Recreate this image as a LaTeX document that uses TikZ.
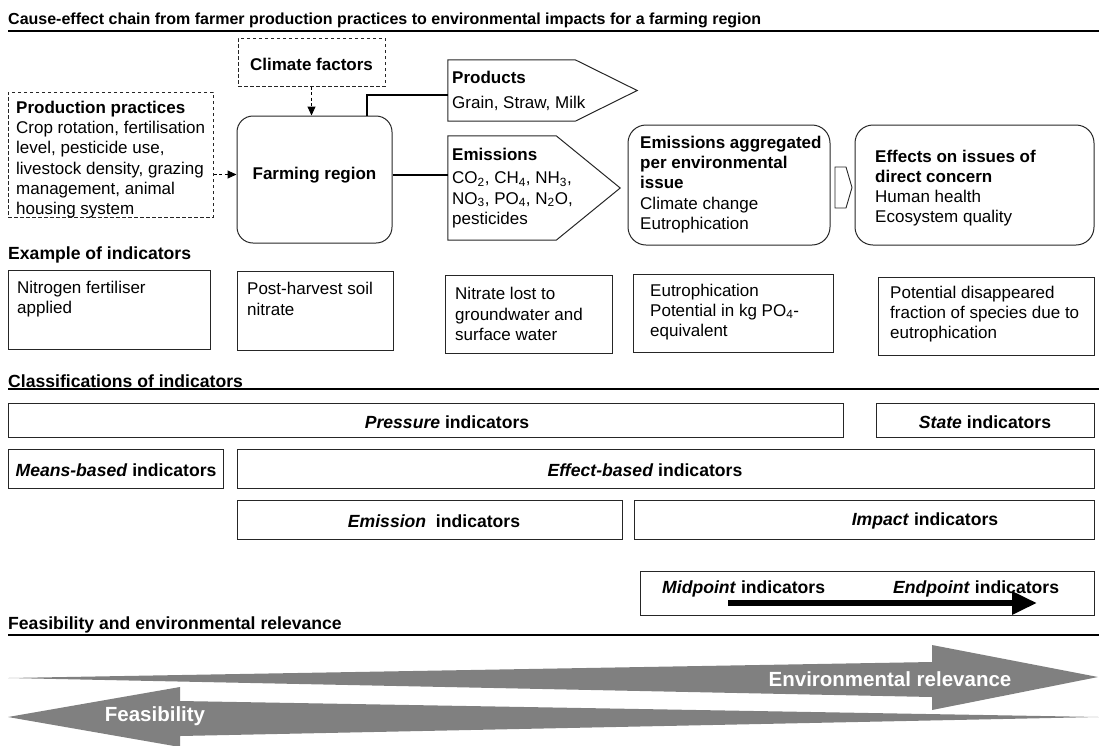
\documentclass[tikz,border=0pt]{standalone}
\usepackage{fontspec}
\setmainfont{Liberation Sans}
\usetikzlibrary{arrows.meta,fit,calc}
\newcommand{\bodyfs}{\fontsize{17.6}{20.5}\selectfont}
\newcommand{\upfs}{\fontsize{17}{20.2}\selectfont}
\newcommand{\titlefs}{\fontsize{16}{19}\selectfont}
\newcommand{\arrfs}{\fontsize{20.5}{24}\selectfont}
\begin{document}
\begin{tikzpicture}[x=1pt,y=-1pt,
  box/.style={draw=black!85,line width=1pt,inner sep=0pt},
  dbox/.style={box,dashed,dash pattern=on 3.5pt off 2.5pt},
  rbox/.style={box,rounded corners=18pt},
  txt/.style={inner sep=0pt,align=left,font=\upfs,anchor=west},
  btxt/.style={inner sep=0pt,align=left,anchor=west,font=\bodyfs\bfseries},
  ctxt/.style={inner sep=0pt,font=\bodyfs\bfseries},
  utxt/.style={inner sep=0pt,font=\upfs\bfseries},
  rule/.style={line width=2.2pt},
  conn/.style={line width=1.8pt},
  dconn/.style={line width=1pt,dashed,dash pattern=on 3pt off 2.5pt,-{Triangle[length=9pt,width=8pt]}},
  garrow/.style={fill=black!50,draw=none},
  wtxt/.style={inner sep=0pt,font=\arrfs\bfseries,text=white}]
\useasboundingbox (0,0) rectangle (1099,745);

% ---- cause-effect chain ----
\node[btxt,font=\titlefs\bfseries] (title) at (8,20) {Cause-effect chain from farmer production practices to environmental impacts for a farming region};
\draw[rule] (8,31) -- (1099,31);

\node[dbox,fit={(238,38)(385,86)}] (clim) {};
\node[utxt] (climt) at (311.5,64) {Climate factors};

\node[dbox,fit={(8,92)(213,217)}] (prac) {};
\node[txt] (pract) at (16,159.5) {\textbf{Production practices}\\Crop rotation, fertilisation\\level, pesticide use,\\livestock density, grazing\\management, animal\\housing system};

\node[rbox,rounded corners=16pt,fit={(237,116)(392,243)}] (farm) {};
\node[utxt] (farmt) at (314.5,175) {Farming region};

\draw[dconn] (clim.south -| climt) -- (climt |- farm.north);
\coordinate (fin) at ([yshift=5pt]farm.west);
\draw[dconn] (prac.east |- fin) -- (fin);

\node[inner sep=0pt,fit={(448,60)(575,121)}] (prod) {};
\draw[box] (prod.north west) -- (prod.north east) -- ([xshift=62pt]prod.east) -- (prod.south east) -- (prod.south west) -- cycle;
\node[txt] (prodt) at (452,91) {\textbf{Products}\\[4pt]Grain, Straw, Milk};

\node[inner sep=0pt,fit={(448,136)(556,240)}] (emis) {};
\draw[box] (emis.north west) -- (emis.north east) -- ([xshift=64pt]emis.east) -- (emis.south east) -- (emis.south west) -- cycle;
\node[txt] (emist) at (452,188) {\textbf{Emissions}\\[3pt]CO\textsubscript{2}, CH\textsubscript{4}, NH\textsubscript{3},\\NO\textsubscript{3}, PO\textsubscript{4}, N\textsubscript{2}O,\\pesticides};

\draw[conn] ([xshift=52.5pt]farm.north) |- ([yshift=-4.5pt]prod.west);
\coordinate (eml) at ([yshift=13pt]emis.west);
\draw[conn] (farm.east |- eml) -- (eml);

\node[rbox,fit={(628,125)(830,245)}] (agg) {};
\node[txt] (aggt) at (640,184.5) {\textbf{Emissions aggregated}\\\textbf{per environmental}\\\textbf{issue}\\Climate change\\Eutrophication};

\draw[box,line width=0.9pt] (835,167) -- (846,167) -- (852,187.5) -- (846,208) -- (835,208) -- cycle;

\node[rbox,fit={(855,125)(1094,245)}] (eff) {};
\node[txt] (efft) at (875,188) {\textbf{Effects on issues of}\\\textbf{direct concern}\\Human health\\Ecosystem quality};

% ---- examples ----
\node[btxt] (exh) at (8,254.5) {Example of indicators};
\node[box,fit={(8,270)(210,349)}] (b1) {};
\node[txt] (b1t) at (17,299) {Nitrogen fertiliser\\applied};
\node[box,fit={(237,271)(393,350)}] (b2) {};
\node[txt] (b2t) at (247,299) {Post-harvest soil\\nitrate};
\node[box,fit={(445,275)(612,353)}] (b3) {};
\node[txt] (b3t) at (455,314) {Nitrate lost to\\groundwater and\\surface water};
\node[box,fit={(633,274)(833,352)}] (b4) {};
\node[txt] (b4t) at (650,312) {Eutrophication\\Potential in kg PO\textsubscript{4}-\\equivalent};
\node[box,fit={(878,277)(1094,355)}] (b5) {};
\node[txt] (b5t) at (890,314) {Potential disappeared\\fraction of species due to\\eutrophication};

% ---- classifications ----
\node[btxt] (clh) at (8,381.5) {Classifications of indicators};
\draw[rule] (8,389) -- (1099,389);
\node[box,fit={(8,403)(843,437)}] (pres) {};
\node[ctxt] (prest) at (447,422) {\textit{Pressure} indicators};
\node[box,fit={(876,403)(1094,437)}] (state) {};
\node[ctxt] (statet) at (985,422) {\textit{State} indicators};
\node[box,fit={(8,449)(223,488)}] (means) {};
\node[ctxt] (meanst) at (116,470.5) {\textit{Means-based} indicators};
\node[box,fit={(237,449)(1094,488)}] (effb) {};
\node[ctxt] (effbt) at (645,470.5) {\textit{Effect-based} indicators};
\node[box,fit={(237,500)(622,539)}] (emb) {};
\node[ctxt] (embt) at (434,521) {\textit{Emission}\ \ indicators};
\node[box,fit={(634,500)(1094,539)}] (imp) {};
\node[ctxt] (impt) at (925,521) {\textit{Impact} indicators};
\node[box,fit={(640,571)(1094,615)}] (mid) {};
\node[btxt] (midt) at (662,588.5) {\textit{Midpoint} indicators};
\node[btxt] (endt) at (893,588.5) {\textit{Endpoint} indicators};
\coordinate (ma) at (728,603);
\coordinate (mb) at (1037,603);
\draw[line width=6pt,-{Triangle[length=25pt,width=22pt]}] (ma) -- (mb);

% ---- feasibility ----
\node[btxt] (feh) at (8,624.5) {Feasibility and environmental relevance};
\draw[rule] (8,635) -- (1099,635);
\fill[garrow] (8,678) -- (932,662) -- (932,645) -- (1098,677) -- (932,710) -- (932,697) -- cycle;
\node[wtxt] (envt) at (890,679) {Environmental relevance};
\fill[garrow] (1099,717) -- (180,701) -- (180,687) -- (8,717) -- (180,747) -- (180,736) -- cycle;
\node[wtxt] (feat) at (155,716.5) {Feasibility};
\end{tikzpicture}
\end{document}
